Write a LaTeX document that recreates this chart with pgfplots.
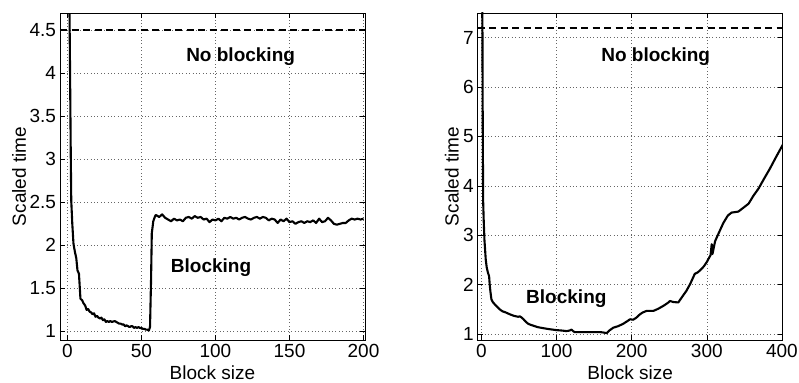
\documentclass[border=0pt]{standalone}
\usepackage{pgfplots}
\pgfplotsset{compat=1.18}
\usepackage{fontspec}
\setmainfont{Liberation Sans}
\begin{document}
\begin{tikzpicture}
\useasboundingbox (0,0) rectangle (799bp,383bp);
\pgfplotsset{
  every axis/.append style={
    scale only axis, anchor=south west, width=305bp, height=327bp,
    font=\fontsize{19bp}{22bp}\selectfont,
    /pgf/number format/assume math mode=true,
    tick align=inside, tick pos=both, axis line style={line width=0.9bp},
    major tick length=5bp, tick style={line width=0.6bp, black},
    grid=major, major grid style={black!60, line width=0.6bp, dash pattern=on 0.8bp off 2.6bp},
    xlabel={Block size}, ylabel={Scaled time},
    xlabel style={at={(axis description cs:0.5,-0.10)}, anchor=center},
    xticklabel style={yshift=-1bp},
    yticklabel style={xshift=-0.5bp},
  },
  curve/.style={black, line width=2.1bp, line join=round},
  ref/.style={black, line width=1.8bp, dash pattern=on 7bp off 4.5bp},
}
\begin{axis}[at={(60bp,43bp)}, xmin=-5, xmax=201, ymin=0.9, ymax=4.7,
  xtick={0,50,100,150,200}, ytick={1,1.5,2,2.5,3,3.5,4,4.5},
  yticklabels={1,1.5,2,2.5,3,3.5,4,4.5},
  ylabel style={at={(axis description cs:-0.134,0.5)}, anchor=center, rotate=0}]
\addplot[ref] coordinates {(-5,4.5) (201,4.5)};
\addplot[curve] coordinates {
(1,5.5) (1.8,4.0) (2.3,3.0) (2.6,2.52) (3.3,2.25) (4.1,2.02) (5,1.93) (6,1.85) (6.8,1.71) (7.8,1.67) (8.4,1.50) (8.8,1.38)
(10,1.36) (10.8,1.33) (12,1.30) (13,1.25) (14,1.26) (15,1.23) (16,1.22) (17,1.20) (18,1.21) (19,1.17) (20,1.18)
(21,1.16) (22,1.15) (23,1.16) (24,1.13) (25,1.14) (26,1.11) (27,1.12) (28,1.11) (29,1.12) (30,1.11) (32,1.12)
(33,1.11) (34,1.10) (35,1.09) (36,1.09) (37,1.08) (38,1.08) (39,1.06) (40,1.07) (41,1.06) (42,1.05) (43,1.06)
(44,1.06) (45,1.04) (46,1.05) (47,1.04) (48,1.05) (49,1.04) (50,1.04) (51,1.03) (52,1.03) (53,1.02) (54,1.02)
(55,1.01) (55.8,1.05) (56.5,1.6) (57,2.14) (58,2.28) (58.6,2.31) (59.5,2.35)
(60,2.35) (62,2.33) (64,2.36) (66,2.32) (68,2.30) (70,2.28) (72,2.31) (74,2.29) (76,2.30) (78,2.28) (80,2.32)
(82,2.33) (84,2.31) (86,2.34) (88,2.32) (90,2.33) (92,2.30) (94,2.31) (96,2.27) (98,2.30) (100,2.29) (102,2.31)
(104,2.28) (106,2.32) (108,2.31) (110,2.33) (112,2.31) (114,2.32) (116,2.30) (118,2.32) (120,2.33) (122,2.31)
(124,2.30) (126,2.32) (128,2.33) (130,2.31) (132,2.33) (134,2.32) (136,2.29) (138,2.31) (140,2.30) (142,2.26)
(144,2.30) (146,2.28) (148,2.31) (150,2.27) (152,2.28) (154,2.25) (156,2.27) (158,2.28) (160,2.26) (162,2.28)
(164,2.27) (166,2.29) (168,2.26) (170,2.31) (172,2.27) (174,2.28) (176,2.32) (178,2.29) (180,2.25) (182,2.24)
(184,2.25) (186,2.26) (188,2.26) (190,2.29) (192,2.31) (194,2.30) (196,2.31) (198,2.30) (200,2.31)};
\node[font=\fontsize{19bp}{22bp}\selectfont\bfseries] at (axis cs:117,4.19) {No blocking};
\node[font=\fontsize{19bp}{22bp}\selectfont\bfseries] at (axis cs:97,1.74) {Blocking};
\end{axis}
\begin{axis}[at={(477.7bp,43bp)}, xmin=-5, xmax=401, ymin=0.88, ymax=7.5,
  xtick={0,100,200,300,400}, ytick={1,2,3,4,5,6,7},
  ylabel style={at={(axis description cs:-0.085,0.5)}, anchor=center, rotate=0}]
\addplot[ref] coordinates {(-5,7.2) (401,7.2)};
\addplot[curve] coordinates {
(1,9) (1.5,6) (2.2,3.72) (3,3.3) (4,2.9) (5.7,2.51) (7,2.35) (8.5,2.25) (10.2,2.17) (11,2.0) (12,1.85) (13.3,1.70)
(15,1.65) (17.8,1.60) (21,1.55) (24.4,1.50) (28,1.46) (32,1.44) (37.8,1.40) (43,1.37) (48.8,1.35) (51,1.36)
(53,1.34) (56,1.30) (59,1.25) (62,1.21) (65,1.19) (68.9,1.17) (75,1.14) (82,1.12) (90,1.10) (100,1.08) (108,1.07)
(113,1.06) (117,1.07) (120,1.09) (122,1.06) (124,1.04) (130,1.04) (140,1.04) (150,1.04) (158,1.04) (163,1.03)
(166.7,1.02) (170,1.07) (175.6,1.13) (182,1.16) (188.9,1.21) (195,1.27) (197.8,1.30) (202,1.29) (206,1.33)
(211,1.40) (215,1.44) (220,1.47) (225,1.47) (229,1.47) (235,1.51) (242,1.57) (248,1.63) (251,1.67) (255,1.65)
(262,1.64) (267,1.75) (273,1.88) (278,2.02) (284,2.22) (288,2.25) (291,2.29) (296,2.37) (300,2.46) (305,2.60)
(306.5,2.82) (307.5,2.62) (311,2.88) (316,3.05) (322,3.25) (328,3.40) (333,3.46) (338,3.47) (342,3.48) (348,3.55)
(355.6,3.64) (362,3.80) (369,3.95) (376,4.14) (384,4.35) (392,4.58) (401,4.83)};
\node[font=\fontsize{19bp}{22bp}\selectfont\bfseries] at (axis cs:232,6.61) {No blocking};
\node[font=\fontsize{19bp}{22bp}\selectfont\bfseries] at (axis cs:113,1.72) {Blocking};
\end{axis}
\end{tikzpicture}
\end{document}
